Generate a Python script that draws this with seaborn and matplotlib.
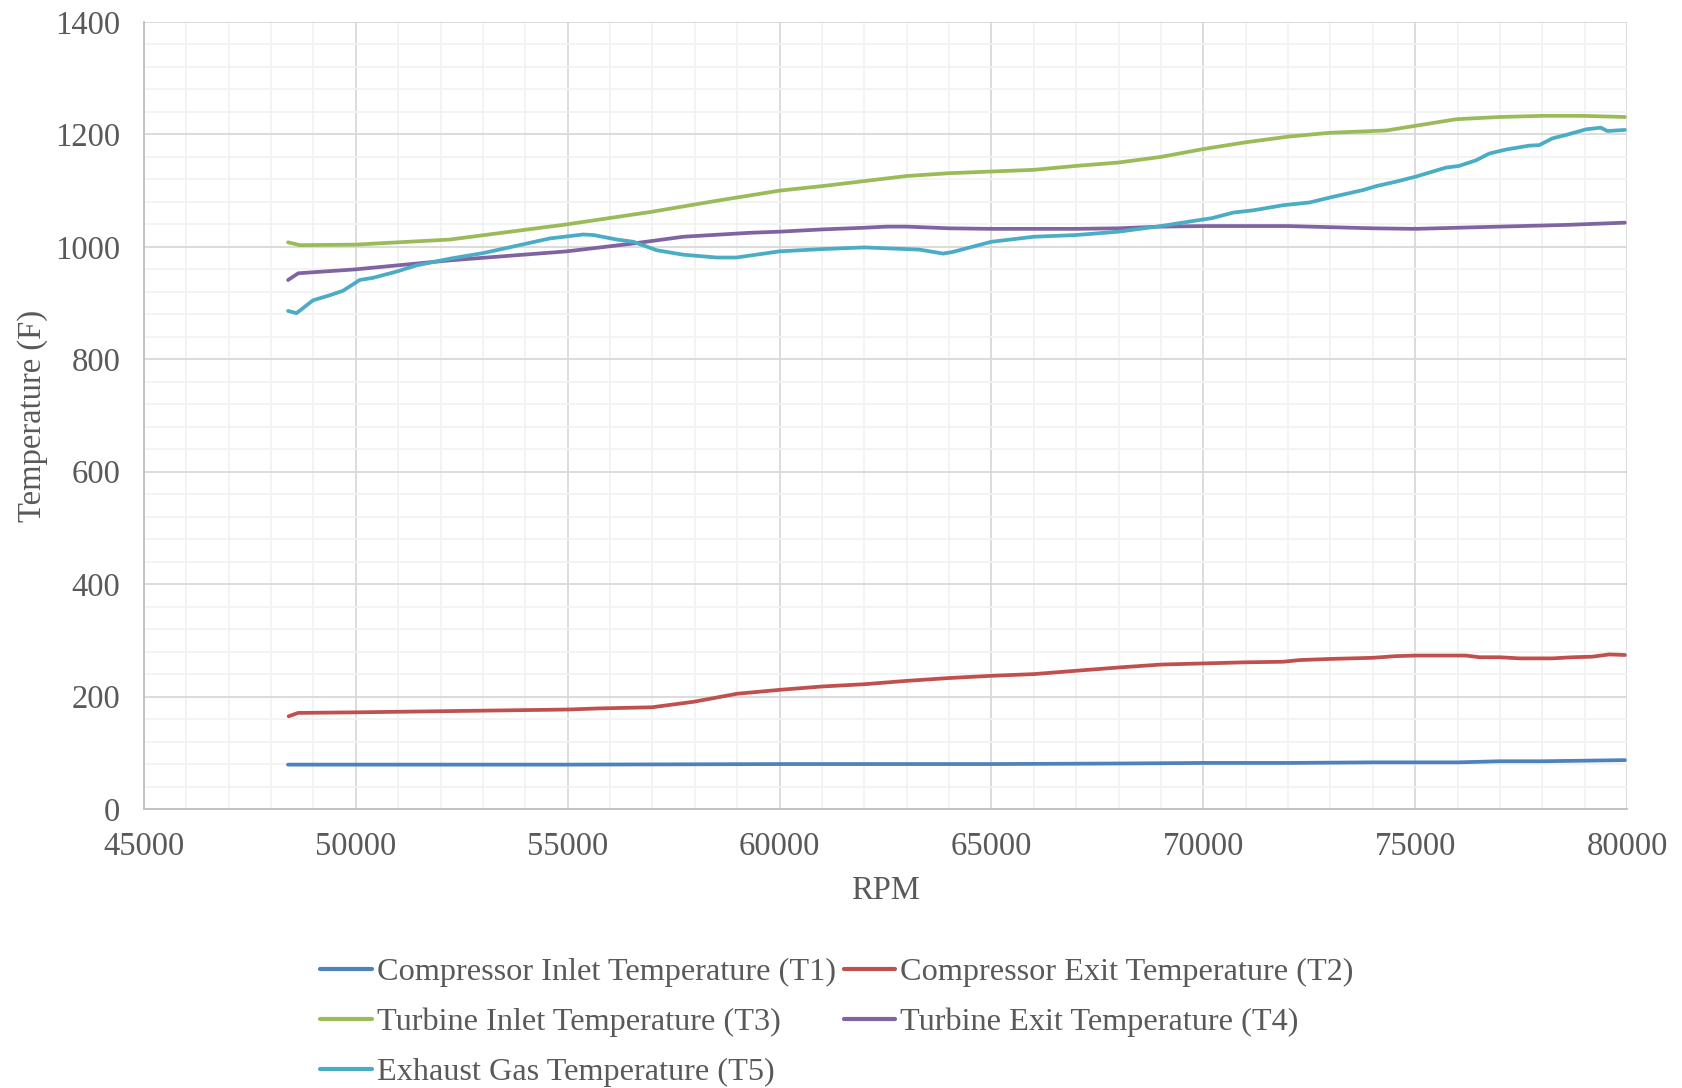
import numpy as np
import pandas as pd
import matplotlib.pyplot as plt
import seaborn as sns
from matplotlib.ticker import MultipleLocator

# RPM / temperature (F) readings for each sensor
rpm_t1 = [48400, 50000, 55000, 60000, 65000, 68000, 70000, 72000, 74000, 76000, 77000, 78000, 79000, 79950]
temp_t1 = [79, 79, 79, 80, 80, 81, 82, 82, 83, 83, 85, 85, 86, 87]

rpm_t2 = [48415, 48640, 50000, 55000, 55750, 56990, 57990, 58990, 60000, 61000, 62000, 63000, 64000,
          65000, 66000, 67000, 68040, 69000, 70000, 71000, 71880, 72280, 73000, 74000, 74550, 75000,
          76200, 76520, 77000, 77460, 78240, 78710, 79180, 79580, 79950]
temp_t2 = [165, 171, 172, 177, 179, 181, 191, 205, 212, 218, 222, 228, 233,
           237, 240, 246, 252, 257, 259, 261, 262, 265, 267, 269, 272, 273,
           273, 270, 270, 268, 268, 270, 271, 275, 274]

rpm_t3 = [48400, 48680, 50000, 52220, 54980, 56950, 58520, 60000, 61000, 62000, 63000, 64000, 65000,
          66000, 67000, 68000, 69000, 70000, 71000, 72000, 73000, 74320, 74980, 75970, 76990, 78000,
          78950, 79950]
temp_t3 = [1008, 1003, 1004, 1013, 1040, 1062, 1082, 1100, 1108, 1117, 1126, 1131, 1134,
           1137, 1144, 1150, 1160, 1174, 1186, 1196, 1203, 1207, 1215, 1227, 1231, 1233,
           1233, 1231]

rpm_t4 = [48400, 48640, 50000, 52220, 54980, 56550, 57730, 59300, 60000, 61000, 62000, 62520, 63000,
          64000, 65000, 67000, 68000, 69000, 70000, 72000, 74000, 75000, 77000, 78550, 79950]
temp_t4 = [941, 953, 960, 976, 992, 1006, 1018, 1025, 1027, 1031, 1034, 1036, 1036,
           1033, 1032, 1032, 1033, 1036, 1037, 1037, 1033, 1032, 1036, 1039, 1043]

rpm_t5 = [48400, 48600, 48990, 49390, 49700, 50090, 50410, 50960, 51430, 52220, 53010, 53800, 54580,
          55370, 55610, 56160, 56550, 57100, 57730, 58520, 58980, 60000, 61000, 62000, 63000, 63310,
          63860, 64090, 65000, 66000, 67000, 68000, 69000, 69760, 70200, 70710, 71180, 71880, 72510,
          73060, 73770, 74080, 74550, 75020, 75730, 76040, 76440, 76750, 77140, 77690, 77930, 78240,
          78560, 79030, 79380, 79540, 79950]
temp_t5 = [886, 882, 905, 914, 922, 941, 945, 956, 967, 979, 989, 1002, 1015,
           1022, 1021, 1013, 1009, 994, 986, 981, 981, 992, 996, 999, 996, 995,
           988, 991, 1009, 1018, 1021, 1027, 1037, 1046, 1051, 1061, 1065, 1074, 1079,
           1089, 1101, 1108, 1116, 1125, 1141, 1144, 1154, 1166, 1173, 1180, 1181, 1193,
           1199, 1209, 1212, 1206, 1208]

labels = ['Compressor Inlet Temperature (T1)', 'Compressor Exit Temperature (T2)',
          'Turbine Inlet Temperature (T3)', 'Turbine Exit Temperature (T4)',
          'Exhaust Gas Temperature (T5)']
colors = ['#4F81BD', '#C0504D', '#9BBB59', '#8064A2', '#4BACC6']

series = [(rpm_t1, temp_t1), (rpm_t2, temp_t2), (rpm_t3, temp_t3), (rpm_t4, temp_t4), (rpm_t5, temp_t5)]
df = pd.concat([pd.DataFrame({'RPM': r, 'Temp': t, 'Sensor': lab})
                for (r, t), lab in zip(series, labels)], ignore_index=True)

sns.set_style('white')
plt.rcParams['font.family'] = ['Liberation Serif', 'DejaVu Serif']
text_color = '#595959'
fs = 23.5

fig = plt.figure(figsize=(16.82, 10.88), dpi=100)
ax = fig.add_axes([0.0856, 0.2564, 0.8817, 0.7234])

sns.lineplot(data=df, x='RPM', y='Temp', hue='Sensor', hue_order=labels, palette=colors,
             estimator=None, sort=False, linewidth=2.7, ax=ax, legend=False)

ax.set_xlim(45000, 80000)
ax.set_ylim(0, 1400)
ax.xaxis.set_major_locator(MultipleLocator(5000))
ax.xaxis.set_minor_locator(MultipleLocator(1000))
ax.yaxis.set_major_locator(MultipleLocator(200))
ax.yaxis.set_minor_locator(MultipleLocator(40))
ax.grid(which='major', color='#D9D9D9', linewidth=1.3)
ax.grid(which='minor', color='#F2F2F2', linewidth=1.3)
ax.set_axisbelow(True)

for side in ['top', 'right']:
    ax.spines[side].set_visible(False)
for side in ['left', 'bottom']:
    ax.spines[side].set_color('#BFBFBF')
    ax.spines[side].set_linewidth(1.3)

ax.tick_params(which='both', length=0, labelsize=fs, colors=text_color)
ax.tick_params(axis='y', pad=17)
ax.tick_params(axis='x', pad=16)
ax.set_xlabel('RPM', fontsize=fs, color=text_color, labelpad=10)
ax.set_ylabel('Temperature (F)', fontsize=fs, color=text_color, labelpad=5)

# legend filled row-wise like the original (two columns)
handles = [plt.Line2D([], [], color=c, linewidth=3) for c in colors]
order = [0, 2, 4, 1, 3]
fig.legend([handles[i] for i in order], [labels[i] for i in order],
           loc='lower center', bbox_to_anchor=(0.4975, -0.026), ncol=2, frameon=False,
           fontsize=23.2, labelcolor=text_color, handlelength=1.6, handletextpad=0.15,
           columnspacing=0.25, labelspacing=0.64)

fig.savefig('out.png', dpi=100)
